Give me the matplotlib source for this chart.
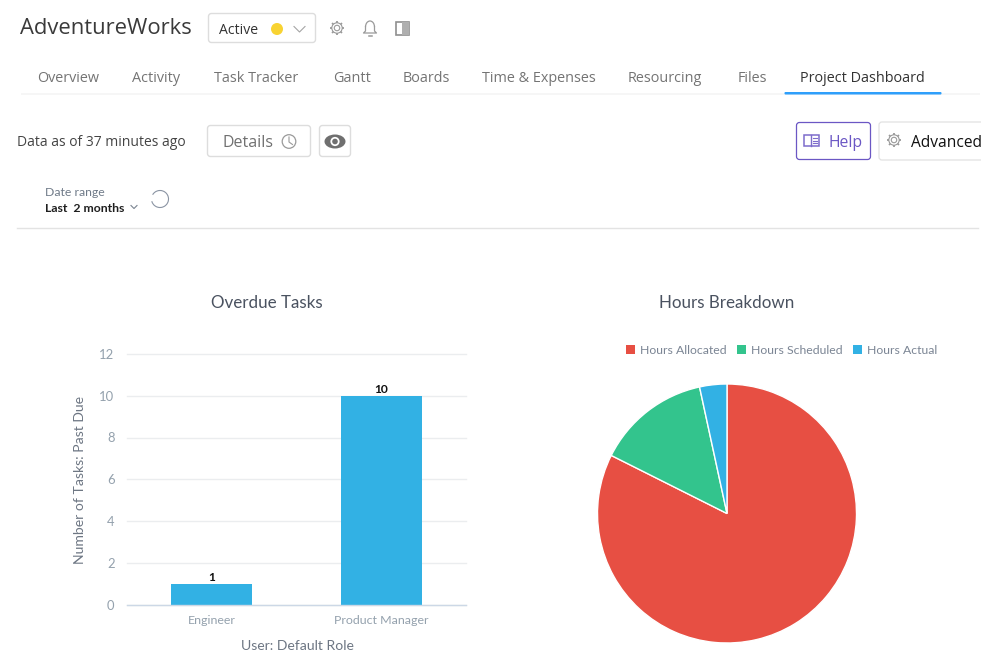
import numpy as np
import matplotlib
matplotlib.use("Agg")
import matplotlib.pyplot as plt
from matplotlib.patches import FancyBboxPatch, Circle, Rectangle, Ellipse, Arc, Wedge

# ---- data ----
roles = ["Engineer", "Product Manager"]
overdue = [1, 10]
y_ticks = [0, 2, 4, 6, 8, 10, 12]
pie_labels = ["Hours Allocated", "Hours Scheduled", "Hours Actual"]
pie_values = [82.4, 14.2, 3.4]
pie_colors = ["#E74F43", "#33C48D", "#32B1E4"]
tabs = ["Overview", "Activity", "Task Tracker", "Gantt", "Boards",
        "Time & Expenses", "Resourcing", "Files", "Project Dashboard"]
tab_x = [37, 132, 214, 333, 403, 482, 628, 738, 800]

W, H = 991, 662
fig = plt.figure(figsize=(W / 100, H / 100), dpi=100, facecolor="white")

def px(size):
    return size * 0.72

UI = "Open Sans"
CH = "Lato"

# ---- page chrome, in pixel coordinates ----
ui = fig.add_axes([0, 0, 1, 1], zorder=0)
ui.set_xlim(0, W)
ui.set_ylim(H, 0)
ui.axis("off")

def t(x, y, s, size, color="#555555", family=UI, ha="left", weight="normal", **kw):
    ui.text(x, y, s, fontsize=px(size), color=color, family=family, ha=ha,
            va="center", weight=weight, **kw)

def box(x0, y0, x1, y1, edge="#DDDDDD", lw=1.0, r=3):
    ui.add_patch(FancyBboxPatch((x0 + r, y0 + r), x1 - x0 - 2 * r, y1 - y0 - 2 * r,
                                boxstyle=f"round,pad={r},rounding_size={r}",
                                fc="white", ec=edge, lw=lw))

def gear(x, y, r, color="#9A9A9A"):
    ui.add_patch(Circle((x, y), r * 0.42, fc="none", ec=color, lw=0.8))
    ui.add_patch(Circle((x, y), r * 0.8, fc="none", ec=color, lw=0.8))
    for a in np.arange(0, 360, 45):
        c, s = np.cos(np.radians(a)), np.sin(np.radians(a))
        ui.plot([x + c * r * 0.8, x + c * r * 1.08], [y + s * r * 0.8, y + s * r * 1.08],
                color=color, lw=1.3, solid_capstyle="butt")

t(20, 29, "AdventureWorks", 22, "#3A3A3A")
box(208.5, 13.5, 315.5, 42.5)
t(219, 30.5, "Active", 14, "#333333")
ui.add_patch(Circle((277, 29), 6, fc="#F8D332", ec="none"))
ui.plot([294, 299.5, 305], [26.5, 32, 26.5], color="#A5A5A5", lw=0.8)
gear(337, 28, 6.5)
# bell
ui.add_patch(Arc((370, 27), 9, 12, theta1=180, theta2=360, color="#9A9A9A", lw=0.9))
ui.plot([365.5, 365.5, 363.5, 376.5, 374.5, 374.5], [27, 31, 33, 33, 31, 27], color="#9A9A9A", lw=0.9)
ui.plot([368.5, 371.5], [35.5, 35.5], color="#9A9A9A", lw=1.1)
# panel toggle
ui.add_patch(Rectangle((395.5, 22), 13, 13, fc="white", ec="#8F8F8F", lw=1.2))
ui.add_patch(Rectangle((402, 22), 6.5, 13, fc="#AFAFAF", ec="none"))

for x, s in zip(tab_x, tabs):
    active = s == "Project Dashboard"
    t(x, 78.5, s, 14.4, "#333333" if active else "#747474")
ui.add_patch(Rectangle((21, 92.5), 959, 2, fc="#F6F6F6", ec="none"))
ui.add_patch(FancyBboxPatch((785, 92.5), 156, 1.5, boxstyle="round,pad=0.5,rounding_size=1",
                            fc="#2E9FFB", ec="none"))

t(17, 143, "Data as of 37 minutes ago", 13.9, "#444444")
box(207.5, 125.5, 310.5, 156.5)
t(223, 143, "Details", 16, "#707070")
ui.add_patch(Circle((289, 141.5), 6.8, fc="none", ec="#9A9A9A", lw=0.9))
ui.plot([289, 289, 292.5], [137, 142, 144.5], color="#9A9A9A", lw=0.8)
box(319.5, 125.5, 350.5, 156.5)
ui.add_patch(Ellipse((335, 141.5), 21, 14, fc="#6F6F6F", ec="none"))
ui.add_patch(Circle((335, 141.5), 4.6, fc="white", ec="none"))
ui.add_patch(Circle((335, 141.5), 2.8, fc="#6F6F6F", ec="none"))

box(796.5, 122.5, 870.5, 159.5, edge="#6B57C4", lw=0.9)
ui.add_patch(Rectangle((803.5, 135), 15, 11, fc="white", ec="#7D6CCB", lw=1.1))
ui.plot([811, 811], [135, 146], color="#7D6CCB", lw=1)
for yy in (138, 140.5, 143):
    ui.plot([813, 817], [yy, yy], color="#7D6CCB", lw=0.8)
t(828, 143, "Help", 15.8, "#6B57C4")
ui.add_patch(FancyBboxPatch((882, 125), 120, 32, boxstyle="round,pad=3,rounding_size=3",
                            fc="white", ec="#E2E2E2", lw=0.9))
gear(894, 140, 6.5)
t(911, 143, "Advanced", 15.5, "#111111")
ui.add_patch(Rectangle((981, 115), 12, 50, fc="white", ec="none", zorder=5))

t(45, 192, "Date range", 12.2, "#6F7A88", family=CH)
t(45, 208, "Last  2 months", 12.2, "#1F1F1F", family=CH, weight="bold")
ui.plot([131, 134, 137], [205.5, 208.5, 205.5], color="#7A8490", lw=0.8)
ui.add_patch(Arc((160, 199), 17, 17, theta1=-150, theta2=165, color="#8A94A3", lw=0.8))
ui.plot([17, 978], [227.5, 227.5], color="#E3E3E3", lw=1)

t(267, 303, "Overdue Tasks", 17, "#4A5260", family=CH, ha="center")
t(726.5, 303, "Hours Breakdown", 17, "#4A5260", family=CH, ha="center")

# ---- bar chart ----
x0, x1, ytop, ybot = 127, 466, 354, 604.5
ax = fig.add_axes([x0 / W, 1 - ybot / H, (x1 - x0) / W, (ybot - ytop) / H], zorder=1)
ax.patch.set_alpha(0)
ax.bar(range(len(roles)), overdue, width=0.478, color="#32B1E4", zorder=3)
ax.set_xlim(-0.5, 1.5)
ax.set_ylim(0, 12)
ax.set_yticks(y_ticks)
ax.set_xticks(range(len(roles)))
ax.set_xticklabels(roles, family=CH, fontsize=px(12.4), color="#94A1AD")
ax.set_yticklabels([str(v) for v in y_ticks], family=CH, fontsize=px(13), color="#94A1AD")
ax.tick_params(length=0)
ax.tick_params(axis="x", pad=7.5)
ax.tick_params(axis="y", pad=9)
ax.grid(axis="y", color="#EBEDEF", lw=1, zorder=0, clip_on=False)
ax.set_axisbelow(True)
for s in ("top", "right", "left"):
    ax.spines[s].set_visible(False)
ax.spines["bottom"].set_color("#CCD8E6")
ax.spines["bottom"].set_linewidth(1)
ax.spines["bottom"].set_zorder(4)
for i, v in enumerate(overdue):
    ax.annotate(str(v), (i, v), xytext=(0, 0.5), textcoords="offset points", ha="center",
                va="bottom", fontsize=px(12), color="#111111", family="Lato", weight="bold")
ax.set_xlabel("User: Default Role", family=CH, fontsize=px(14), color="#6D7683", labelpad=8)
ax.set_ylabel("Number of Tasks: Past Due", family=CH, fontsize=px(14), color="#6D7683", labelpad=12)
ax.xaxis.set_label_coords((297 - x0) / (x1 - x0), -(646 - ybot) / (ybot - ytop), transform=ax.transAxes)
ax.xaxis.label.set_va("center")
ax.yaxis.set_label_coords((80 - x0) / (x1 - x0), (604 - 479) / (ybot - ytop), transform=ax.transAxes)
ax.yaxis.label.set_va("center")

# ---- pie chart ----
cx, cy, r = 727, 513.5, 129.5
pa = fig.add_axes([(cx - r) / W, 1 - (cy + r) / H, 2 * r / W, 2 * r / H], zorder=1)
pa.pie(pie_values, colors=pie_colors, startangle=90, counterclock=False, radius=1,
       wedgeprops=dict(edgecolor="white", linewidth=1))
pa.set_xlim(-1, 1)
pa.set_ylim(-1, 1)

# legend
lg_x = [626, 737, 853]
lg_text_x = [640, 751, 867]
for sx, tx, lab, col in zip(lg_x, lg_text_x, pie_labels, pie_colors):
    ui.add_patch(Rectangle((sx, 344.5), 9, 9, fc=col, ec="none"))
    t(tx, 350, lab, 12.25, "#7B8594", family=CH)

fig.savefig("out.png", dpi=100, facecolor="white")
